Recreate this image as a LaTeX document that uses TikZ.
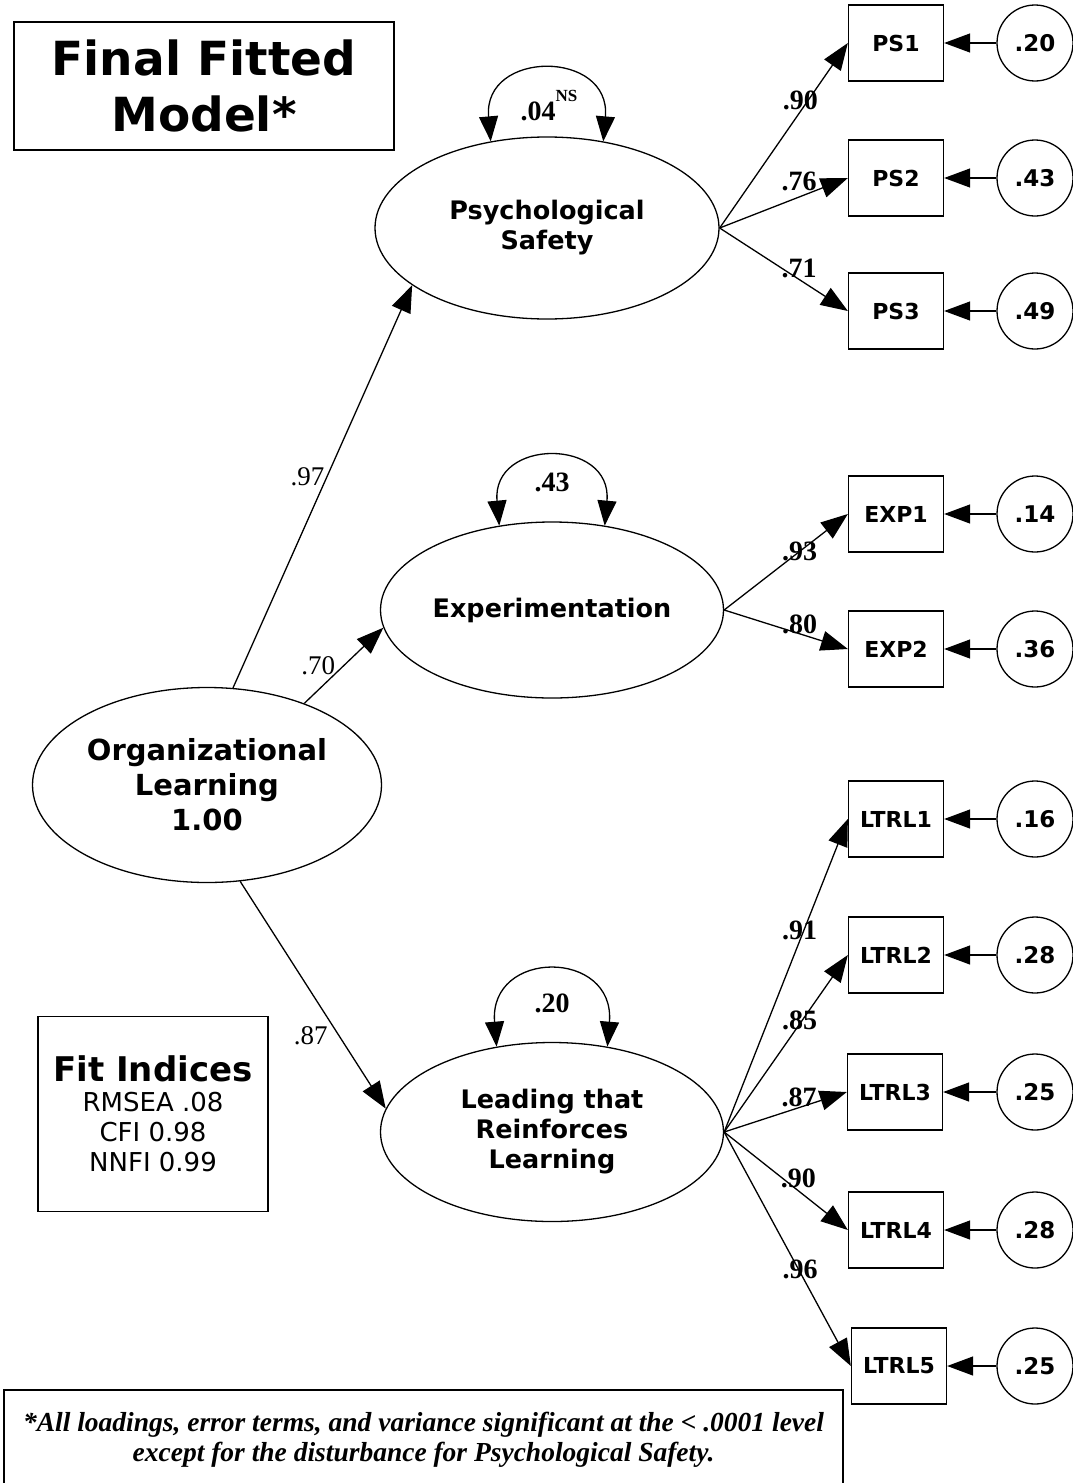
\documentclass[tikz,border=0pt]{standalone}
\usepackage{fontspec}
\setmainfont{DejaVu Sans}
\newfontfamily\tms{Liberation Serif}
\usetikzlibrary{arrows.meta,shapes.geometric,positioning}

\tikzset{
  latent/.style={ellipse, draw, line width=1.3pt, inner sep=0pt, align=center,
    font=\bfseries\fontsize{25.5}{30}\selectfont},
  obs/.style={draw, line width=1.3pt, minimum width=95pt, minimum height=76pt,
    inner sep=0pt, font=\bfseries\fontsize{22}{26}\selectfont},
  err/.style={circle, draw, line width=1.3pt, minimum size=76pt, inner sep=0pt,
    font=\bfseries\fontsize{23}{27}\selectfont},
  arr/.style={line width=1.3pt, -{Triangle[length=27pt,width=20pt]}},
  eps/.style={line width=1.3pt, -{Triangle[length=26pt,width=19pt]}},
  loop/.style={line width=1.3pt, {Triangle[length=25pt,width=19pt]}-{Triangle[length=25pt,width=19pt]}},
  coef/.style={font=\tms\fontsize{27}{27}\selectfont, inner sep=2pt},
  load/.style={font=\tms\bfseries\fontsize{28}{28}\selectfont, inner sep=0pt},
  dist/.style={font=\tms\bfseries\fontsize{28}{28}\selectfont, inner sep=0pt}
}

\begin{document}
\begin{tikzpicture}[x=1pt, y=-1pt]
\useasboundingbox (0,0) rectangle (1073,1483);

% title
\node[draw, line width=1.3pt, minimum width=380pt, minimum height=128pt, align=center,
  font=\bfseries\fontsize{47}{56}\selectfont] (title) at (204,86) {Final Fitted\\Model*};

% latent variables
\node[latent, minimum width=344pt, minimum height=182pt] (ps) at (547,228) {Psychological\\Safety};
\node[latent, minimum width=343pt, minimum height=176pt] (exp) at (552,610) {Experimentation};
\node[latent, minimum width=343pt, minimum height=179pt] (lt) at (552,1132) {Leading that\\Reinforces\\Learning};
\node[latent, minimum width=349pt, minimum height=195pt,
  font=\bfseries\fontsize{29}{35}\selectfont] (ol) at (207,785) {Organizational\\Learning\\1.00};

% indicators and error terms
\foreach \name/\lbl/\x/\y/\e in {ps1/PS1/896/43/.20, ps2/PS2/896/178/.43, ps3/PS3/896/311/.49,
    exp1/EXP1/896/514/.14, exp2/EXP2/896/649/.36,
    lt1/LTRL1/896/819/.16, lt2/LTRL2/896/955/.28, lt3/LTRL3/895/1092/.25,
    lt4/LTRL4/896/1230/.28, lt5/LTRL5/899/1366/.25}{
  \node[obs] (\name) at (\x,\y) {\lbl};
  \node[err] (e\name) at (1035,\y) {\e};
  \draw[eps] (e\name) -- (\name);
}

% loadings
\draw[arr] (ps.east) -- node[load, pos=.63, yshift=11pt] {.90} (ps1.west);
\draw[arr] (ps.east) -- node[load, pos=.62, yshift=16pt] {.76} (ps2.west);
\draw[arr] (ps.east) -- node[load, pos=.62, yshift=11pt] {.71} (ps3.west);
\draw[arr] (exp.east) -- node[load, pos=.61, yshift=0pt] {.93} (exp1.west);
\draw[arr] (exp.east) -- node[load, pos=.61, yshift=9pt] {.80} (exp2.west);
\draw[arr] (lt.east) -- node[load, pos=.61, yshift=11pt] {.91} (lt1.west);
\draw[arr] (lt.east) -- node[load, pos=.61, yshift=4pt] {.85} (lt2.west);
\draw[arr] (lt.east) -- node[load, pos=.61, yshift=10pt] {.87} (lt3.west);
\draw[arr] (lt.east) -- node[load, pos=.60, yshift=12pt] {.90} (lt4.west);
\draw[arr] (lt.east) -- node[load, pos=.60, yshift=3pt] {.96} (lt5.west);

% structural paths
\draw[arr] (ol.75) -- node[coef, pos=.525, left] {.97} (ps.203);
\draw[arr] (ol.40) -- node[coef, pos=.5, left, xshift=-6pt] {.70} (exp.186);
\draw[arr] (ol.289) -- node[coef, pos=.68, left, xshift=-9pt] {.87} (lt.172);

% disturbances
\draw[loop] (ps.123) .. controls +(-8,-92) and +(8,-92) .. (ps.57);
\draw[loop] (exp.122) .. controls +(-8,-88) and +(8,-88) .. (exp.58);
\draw[loop] (lt.123) .. controls +(-8,-98) and +(8,-98) .. (lt.57);
\node[dist, above=15pt of ps.north, xshift=2pt] (d1) {.04\raisebox{19pt}{\fontsize{17}{17}\selectfont NS}};
\node[dist, above=29pt of exp.north] (d2) {.43};
\node[dist, above=29pt of lt.north] (d3) {.20};

% fit indices
\node[draw, line width=1.3pt, minimum width=230pt, minimum height=195pt, align=center,
  font=\fontsize{26}{30}\selectfont] (fit) at (153,1114)
  {{\bfseries\fontsize{34}{36}\selectfont Fit Indices}\\RMSEA .08\\CFI 0.98\\NNFI 0.99};

% footnote
\node[draw, line width=1.3pt, minimum width=839pt, minimum height=100pt, align=center,
  font=\tms\bfseries\itshape\fontsize{27.5}{30}\selectfont] (note) at (423.5,1440)
  {*All loadings, error terms, and variance significant at the < .0001 level\\
   except for the disturbance for Psychological Safety.};
\end{tikzpicture}
\end{document}
